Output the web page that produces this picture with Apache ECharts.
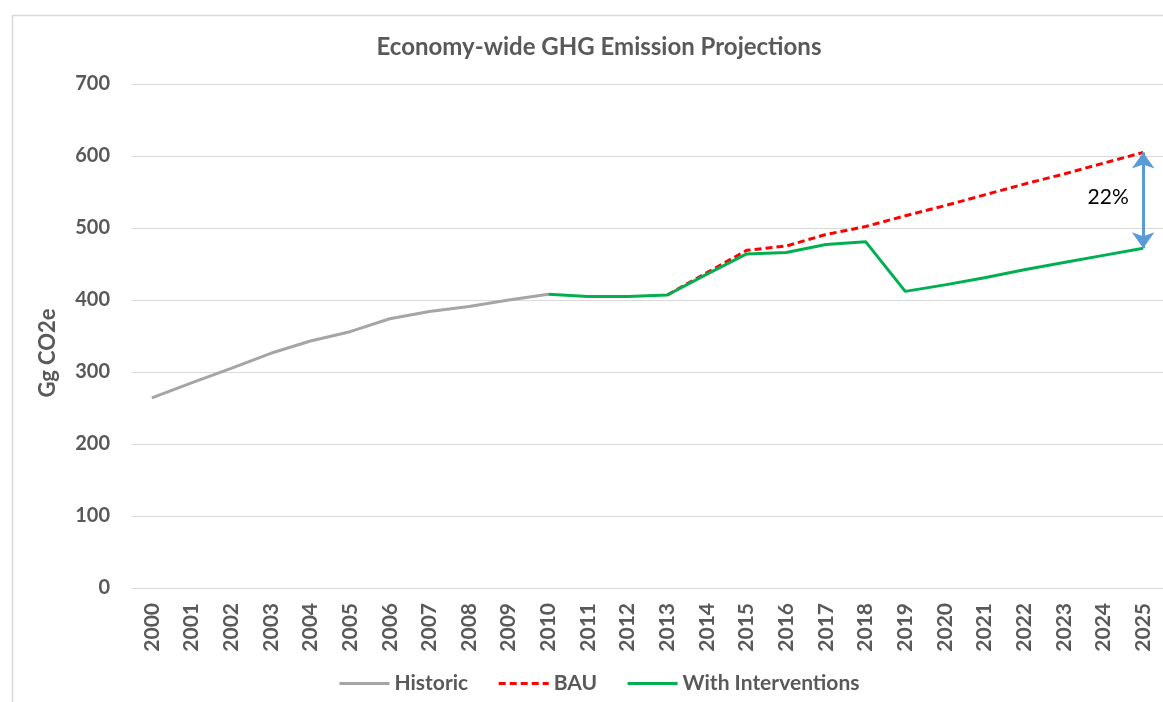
<!DOCTYPE html>
<html>
<head>
<meta charset="utf-8">
<script src="https://cdn.jsdelivr.net/npm/echarts@6/dist/echarts.min.js"></script>
<style>
  html, body { margin: 0; padding: 0; background: #fff; }
  #chart { width: 1163px; height: 702px; }
</style>
</head>
<body>
<div id="chart"></div>
<script>
// ---- data ----
const years = ['2000','2001','2002','2003','2004','2005','2006','2007','2008','2009','2010','2011','2012',
  '2013','2014','2015','2016','2017','2018','2019','2020','2021','2022','2023','2024','2025']

const historic = [264, 285, 305, 326, 343, 356, 374, 384, 391, 400, 408,
  null, null, null, null, null, null, null, null, null, null, null, null, null, null, null]

const bau = [null, null, null, null, null, null, null, null, null, null, null, null, null,
  407, 438, 469, 475, 491, 502, 517, 531, 546, 561, 575, 590, 605]

const withInterventions = [null, null, null, null, null, null, null, null, null, null,
  408, 405, 405, 407, 436, 464, 466, 477, 481, 412, 421, 431, 442, 452, 462, 472]

const gapLabel = '22%'

// ---- style ----
const textColor = '#595959'
const gridColor = '#D9D9D9'
const font = 'Lato, "Open Sans", sans-serif'

const chart = echarts.init(document.getElementById('chart'))

chart.setOption({
  animation: false,
  textStyle: { fontFamily: font },
  title: {
    text: 'Economy-wide GHG Emission Projections',
    left: 594,
    textAlign: 'center',
    top: 30,
    textStyle: { color: textColor, fontSize: 24, fontWeight: 'bold', fontFamily: font }
  },
  graphic: [
    {
      type: 'rect',
      left: 10, top: 13,
      shape: { width: 1200, height: 720 },
      style: { fill: 'none', stroke: gridColor, lineWidth: 1.5 },
      silent: true
    },
    {
      // y axis title
      type: 'text',
      x: 48, y: 353,
      rotation: Math.PI / 2,
      style: {
        text: 'Gg CO2e',
        fill: textColor,
        font: 'bold 22px ' + font,
        align: 'center',
        verticalAlign: 'middle'
      },
      silent: true
    }
  ],
  legend: {
    left: 333,
    top: 668,
    itemWidth: 50,
    itemHeight: 14,
    itemGap: 29,
    itemStyle: { opacity: 0 },
    lineStyle: { width: 3 },
    textStyle: { color: textColor, fontSize: 21, fontWeight: 'bold', fontFamily: font },
    data: ['Historic', 'BAU', 'With Interventions']
  },
  grid: { left: 132, right: 0, top: 84, bottom: 114 },
  xAxis: {
    type: 'category',
    data: years,
    boundaryGap: true,
    axisLine: { show: true, lineStyle: { color: gridColor } },
    axisTick: { show: false },
    axisLabel: {
      rotate: 90,
      margin: 15,
      interval: 0,
      color: textColor,
      fontSize: 21,
      fontWeight: 'bold'
    }
  },
  yAxis: {
    type: 'value',
    min: 0,
    max: 700,
    interval: 100,
    axisLine: { show: false },
    axisTick: { show: false },
    axisLabel: { color: textColor, fontSize: 20, fontWeight: 'bold', margin: 22 },
    splitLine: { lineStyle: { color: gridColor } }
  },
  series: [
    {
      name: 'Historic',
      type: 'line',
      data: historic,
      symbol: 'none',
      lineStyle: { color: '#A5A5A5', width: 3 },
      itemStyle: { color: '#A5A5A5' }
    },
    {
      name: 'BAU',
      type: 'line',
      data: bau,
      symbol: 'none',
      lineStyle: { color: '#FF0000', width: 3, type: [7, 4] },
      itemStyle: { color: '#FF0000' },
      markLine: {
        silent: true,
        symbol: ['arrow', 'arrow'],
        symbolSize: [17, 16],
        lineStyle: { color: '#5B9BD5', width: 3, type: 'solid' },
        label: { show: false },
        data: [[
          { coord: ['2025', bau[25]] },
          { coord: ['2025', withInterventions[25]] }
        ]]
      },
      markPoint: {
        silent: true,
        symbol: 'circle',
        symbolSize: 0,
        label: {
          show: true,
          formatter: gapLabel,
          color: '#000',
          fontSize: 21,
          fontFamily: 'Lato, sans-serif',
          offset: [-35, 0]
        },
        data: [{ coord: ['2025', (bau[25] + withInterventions[25]) / 2 + 4] }]
      }
    },
    {
      name: 'With Interventions',
      type: 'line',
      data: withInterventions,
      symbol: 'none',
      lineStyle: { color: '#00B050', width: 3 },
      itemStyle: { color: '#00B050' }
    }
  ]
})
</script>
</body>
</html>
